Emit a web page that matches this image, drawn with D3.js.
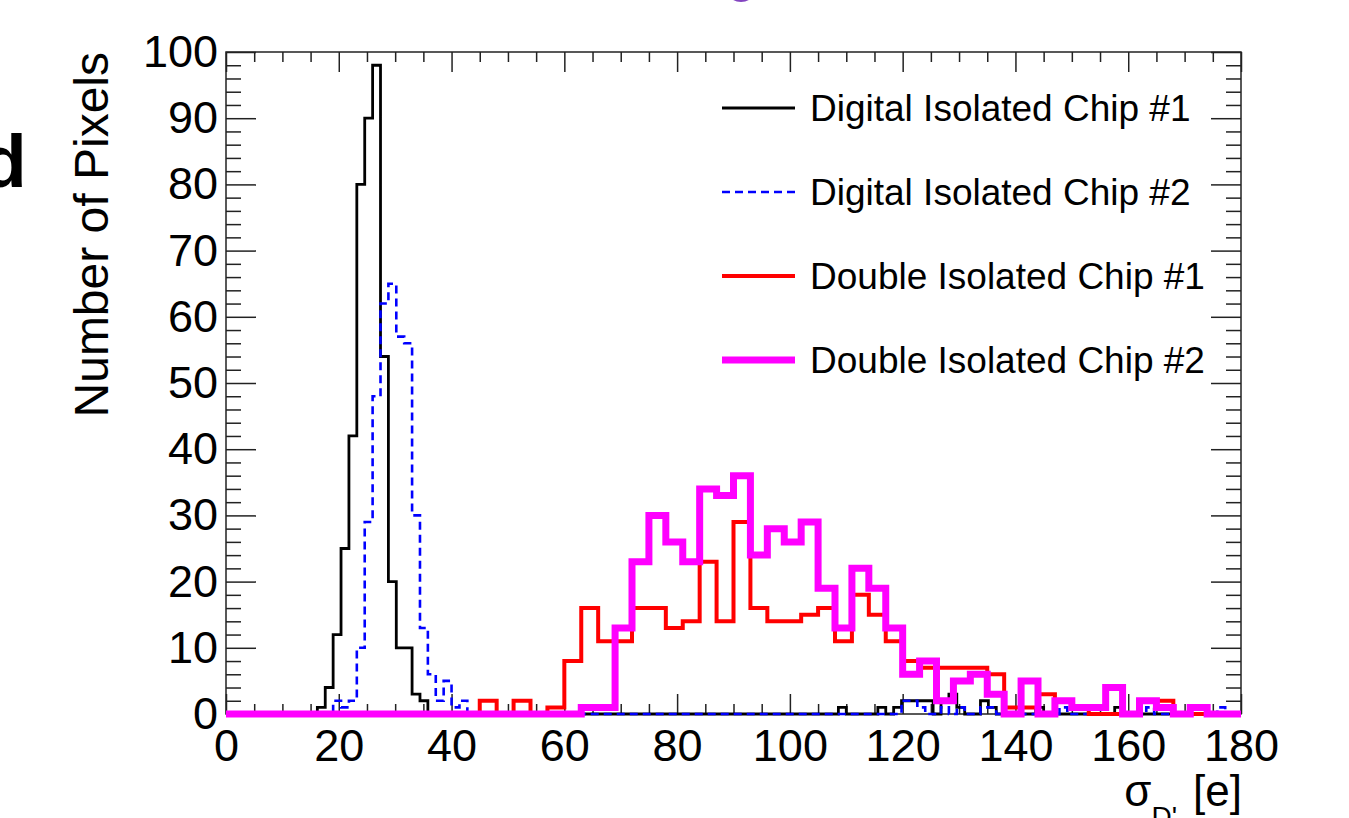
<!DOCTYPE html>
<html>
<head>
<meta charset="utf-8">
<script src="https://cdn.jsdelivr.net/npm/d3@7/dist/d3.min.js"></script>
<style>
  html, body { margin: 0; padding: 0; background: #fff; }
  svg { display: block; font-family: "Liberation Sans", Arial, sans-serif; }
</style>
</head>
<body>
<svg id="chart" width="1349" height="818"></svg>
<script>
// x ticks / y ticks
const xMajor = [0, 20, 40, 60, 80, 100, 120, 140, 160, 180];
const yMajor = [0, 10, 20, 30, 40, 50, 60, 70, 80, 90, 100];

// digital isolated chips: fine binning (1.4 wide, from 0.8), [low edge, count] for non-empty bins
const fineStart = 0.8, fineWidth = 1.4, fineBins = 128;
const digitalChip1 = [
  [16.2, 1], [17.6, 4], [19.0, 12], [20.4, 25], [21.8, 42], [23.2, 80], [24.6, 90],
  [26.0, 98], [27.4, 54], [28.8, 20], [30.2, 10], [31.6, 10], [33.0, 3], [34.4, 2],
  [108.6, 1], [115.6, 1], [118.4, 1], [119.8, 2], [121.2, 2], [122.6, 2], [124.0, 2],
  [126.8, 2], [128.2, 3], [129.6, 1], [133.8, 2], [135.2, 1], [143.6, 1], [157.6, 1]
];
const digitalChip2 = [
  [19.0, 2], [20.4, 1], [21.8, 2], [23.2, 10], [24.6, 29], [26.0, 48], [27.4, 62],
  [28.8, 65], [30.2, 57], [31.6, 56], [33.0, 30], [34.4, 13], [35.8, 6], [37.2, 2],
  [38.6, 5], [40.0, 1], [41.4, 2],
  [119.8, 2], [121.2, 2], [122.6, 1], [126.8, 1], [129.6, 1], [133.8, 1], [135.2, 1],
  [147.8, 1], [163.2, 1], [171.6, 1], [175.8, 1]
];

// double isolated chips: 60 bins of 3 from 0 to 180
const coarseWidth = 3;
const doubleChip1 = [
  0, 0, 0, 0, 0, 0, 0, 0, 0, 0, 0, 0, 0, 0, 0,
  2, 0, 2, 0, 1, 8, 16, 11, 11, 16, 16, 13, 14, 23, 14,
  29, 16, 14, 14, 15, 16, 11, 18, 15, 11, 8, 7, 7, 7, 7,
  6, 1, 1, 3, 2, 1, 0, 0, 0, 2, 2, 0, 0, 0, 0
];
const doubleChip2 = [
  0, 0, 0, 0, 0, 0, 0, 0, 0, 0, 0, 0, 0, 0, 0,
  0, 0, 0, 0, 0, 0, 1, 1, 13, 23, 30, 26, 23, 34, 33,
  36, 24, 28, 26, 29, 19, 13, 22, 19, 13, 6, 8, 2, 5, 6,
  3, 0, 5, 0, 2, 1, 1, 4, 0, 2, 1, 0, 1, 0, 0
];

const legendLabels = ["Digital Isolated Chip #1", "Digital Isolated Chip #2",
                      "Double Isolated Chip #1", "Double Isolated Chip #2"];

const svg = d3.select('#chart');
const x = d3.scaleLinear().domain([0, 180]).range([226, 1241]);
const y = d3.scaleLinear().domain([0, 100]).range([714, 52]);

// turn [edge,count] pairs into full bin list
function fineHist(pairs) {
  const bins = d3.range(fineBins).map(i => ({lo: fineStart + i * fineWidth, n: 0}));
  pairs.forEach(([lo, n]) => { bins[Math.round((lo - fineStart) / fineWidth)].n = n; });
  bins.push({lo: 180, n: bins[bins.length - 1].n});
  return bins;
}
function coarseHist(counts) {
  const bins = counts.map((n, i) => ({lo: i * coarseWidth, n: n}));
  bins.push({lo: 180, n: counts[counts.length - 1]});
  return bins;
}

const step = d3.line().x(d => x(d.lo)).y(d => y(d.n)).curve(d3.curveStepAfter);

const series = [
  {bins: fineHist(digitalChip1), color: '#000', width: 2.8, dash: null},
  {bins: fineHist(digitalChip2), color: '#0000ff', width: 2.6, dash: '8,5'},
  {bins: coarseHist(doubleChip1), color: '#ff0000', width: 4, dash: null},
  {bins: coarseHist(doubleChip2), color: '#ff00ff', width: 7, dash: null}
];

// frame
svg.append('rect')
  .attr('x', x(0)).attr('y', y(100))
  .attr('width', x(180) - x(0)).attr('height', y(0) - y(100))
  .attr('fill', 'none').attr('stroke', '#222').attr('stroke-width', 1.5);

const xMinor = d3.range(0, 181, 5).filter(v => v % 20 !== 0);
const yMinor = d3.range(0, 101, 2).filter(v => v % 10 !== 0);

function styleAxis(g) {
  g.select('.domain').remove();
  g.selectAll('.tick line').attr('stroke', '#222').attr('stroke-width', 1.5);
  g.selectAll('.tick text').attr('fill', '#000').attr('font-size', 45)
    .attr('font-family', '"Liberation Sans", Arial, sans-serif');
}

svg.append('g').attr('transform', `translate(0,${y(0)})`)
  .call(d3.axisBottom(x).tickValues(xMajor).tickSizeInner(-20).tickSizeOuter(0).tickPadding(15))
  .call(styleAxis);
svg.append('g').attr('transform', `translate(0,${y(0)})`)
  .call(d3.axisBottom(x).tickValues(xMinor).tickSizeInner(-10).tickSizeOuter(0).tickFormat(''))
  .call(styleAxis);
svg.append('g').attr('transform', `translate(0,${y(100)})`)
  .call(d3.axisTop(x).tickValues(xMajor).tickSizeInner(-20).tickSizeOuter(0).tickFormat(''))
  .call(styleAxis);
svg.append('g').attr('transform', `translate(0,${y(100)})`)
  .call(d3.axisTop(x).tickValues(xMinor).tickSizeInner(-10).tickSizeOuter(0).tickFormat(''))
  .call(styleAxis);

svg.append('g').attr('transform', `translate(${x(0)},0)`)
  .call(d3.axisLeft(y).tickValues(yMajor).tickSizeInner(-30).tickSizeOuter(0).tickPadding(8))
  .call(styleAxis);
svg.append('g').attr('transform', `translate(${x(0)},0)`)
  .call(d3.axisLeft(y).tickValues(yMinor).tickSizeInner(-15).tickSizeOuter(0).tickFormat(''))
  .call(styleAxis);
svg.append('g').attr('transform', `translate(${x(180)},0)`)
  .call(d3.axisRight(y).tickValues(yMajor).tickSizeInner(-30).tickSizeOuter(0).tickFormat(''))
  .call(styleAxis);
svg.append('g').attr('transform', `translate(${x(180)},0)`)
  .call(d3.axisRight(y).tickValues(yMinor).tickSizeInner(-15).tickSizeOuter(0).tickFormat(''))
  .call(styleAxis);

// histograms
svg.append('g').selectAll('path')
  .data(series)
  .join('path')
  .attr('d', d => step(d.bins))
  .attr('fill', 'none')
  .attr('stroke', d => d.color)
  .attr('stroke-width', d => d.width)
  .attr('stroke-dasharray', d => d.dash)
  .attr('stroke-linejoin', 'miter');

// legend
const legend = svg.append('g').selectAll('g')
  .data(series.map((s, i) => ({s: s, label: legendLabels[i]})))
  .join('g')
  .attr('transform', (d, i) => `translate(722,${108 + i * 84})`);
legend.append('line')
  .attr('x1', 0).attr('x2', 73)
  .attr('stroke', d => d.s.color)
  .attr('stroke-width', d => d.s.width)
  .attr('stroke-dasharray', d => d.s.dash);
legend.append('text')
  .attr('x', 88).attr('dy', '0.36em')
  .attr('font-size', 37)
  .text(d => d.label);

// axis titles
svg.append('text')
  .attr('transform', 'translate(108,52) rotate(-90)')
  .attr('text-anchor', 'end')
  .attr('font-size', 48)
  .text('Number of Pixels');

const xt = svg.append('text')
  .attr('x', 1242).attr('y', 806)
  .attr('text-anchor', 'end')
  .attr('font-size', 44);
xt.append('tspan').text('σ');
xt.append('tspan').attr('font-size', 28).attr('dy', 20).text("D'");
xt.append('tspan').attr('dy', -20).attr('dx', 16).text('[e]');

// panel letter and clipped decoration at top
svg.append('text')
  .attr('x', -19).attr('y', 187)
  .attr('font-size', 75).attr('font-weight', 'bold')
  .text('d');
svg.append('ellipse')
  .attr('cx', 741).attr('cy', -8).attr('rx', 13).attr('ry', 10)
  .attr('fill', '#8344c0');
</script>
</body>
</html>
